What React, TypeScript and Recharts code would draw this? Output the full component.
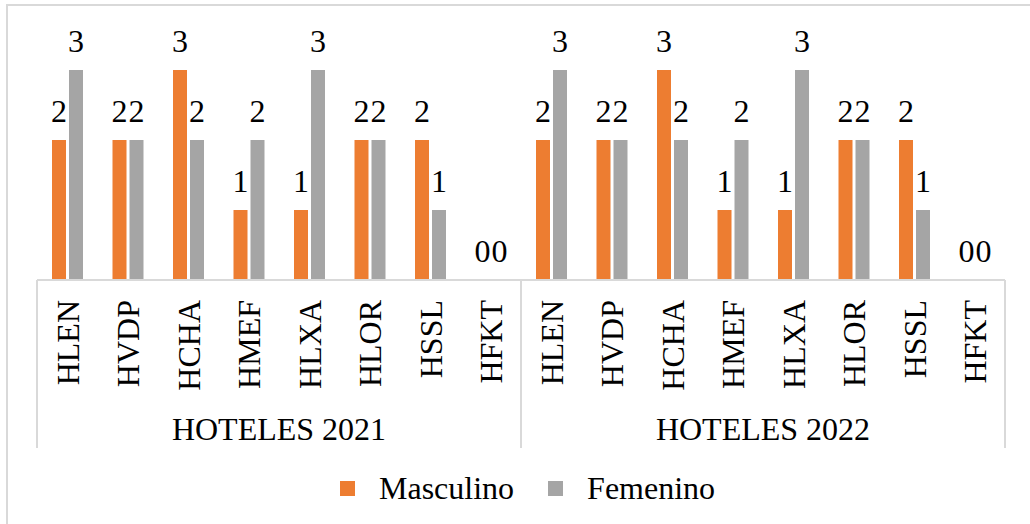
import React from 'react';
import { BarChart, Bar, XAxis, YAxis, Legend, LabelList } from 'recharts';

// hotel codes shown under each year group
const hotelCodes = ['HLEN', 'HVDP', 'HCHA', 'HMEF', 'HLXA', 'HLOR', 'HSSL', 'HFKT'];
const yearGroups = ['HOTELES 2021', 'HOTELES 2022'];
const seriesNames = ['Masculino', 'Femenino'];

const masculino2021 = [2, 2, 3, 1, 1, 2, 2, 0];
const femenino2021 = [3, 2, 2, 2, 3, 2, 1, 0];
const masculino2022 = [2, 2, 3, 1, 1, 2, 2, 0];
const femenino2022 = [3, 2, 2, 2, 3, 2, 1, 0];

const masculinoByYear = [masculino2021, masculino2022];
const femeninoByYear = [femenino2021, femenino2022];

const rows = yearGroups.flatMap((group, g) =>
  hotelCodes.map((code, i) => ({
    key: `${group}|${code}`,
    code,
    group,
    masculino: masculinoByYear[g][i],
    femenino: femeninoByYear[g][i],
  }))
);

const CHART_W = 1030;
const CHART_H = 524;
const MARGIN = { top: 0, right: 25, bottom: 0, left: 37 };
const ORANGE = '#ED7D31';
const GRAY = '#A5A5A5';
const LINE = '#D9D9D9';
const FONT = '"Liberation Serif", "Times New Roman", serif';
const FONT_SIZE = 32;
const LABEL_GAP = 18;

const plotWidth = CHART_W - MARGIN.left - MARGIN.right;

// zero bars get a hairline height so their "0" label still gets a slot
const zeroBarHeight = (value: any) => (Number(value) === 0 ? 0.01 : 0);

function CategoryTick(props: any) {
  const { x, y, index, visibleTicksCount } = props;
  const row = rows[index];
  if (!row) return null;
  const count = visibleTicksCount || rows.length;
  const half = (props.width || plotWidth) / count / 2;
  const pos = index % hotelCodes.length;
  const boxH = 168;
  const lx = x + 11.5;
  const ly = y + 20;
  return (
    <g>
      <text
        x={lx}
        y={ly}
        transform={`rotate(-90, ${lx}, ${ly})`}
        textAnchor="end"
        fontFamily={FONT}
        fontSize={FONT_SIZE}
        fill="#000"
      >
        {row.code}
      </text>
      {index === 0 && (
        <line x1={x - half} x2={x - half} y1={y} y2={y + boxH} stroke={LINE} strokeWidth={2} />
      )}
      {pos === hotelCodes.length - 1 && (
        <line x1={x + half} x2={x + half} y1={y} y2={y + boxH} stroke={LINE} strokeWidth={2} />
      )}
      {pos === 3 && (
        <text
          x={x + half}
          y={y + 160}
          textAnchor="middle"
          fontFamily={FONT}
          fontSize={FONT_SIZE}
          fill="#000"
        >
          {row.group}
        </text>
      )}
    </g>
  );
}

// value written above each bar
function ValueLabel(props: any) {
  const { x, y, width, value } = props;
  if (value === undefined || value === null) return null;
  return (
    <text
      x={Number(x) + Number(width) / 2}
      y={Number(y) - LABEL_GAP}
      textAnchor="middle"
      fontFamily={FONT}
      fontSize={FONT_SIZE}
      fill="#000"
    >
      {value}
    </text>
  );
}

function LegendContent({ payload }: any) {
  const items = [...(payload || [])].sort(
    (a: any, b: any) => seriesNames.indexOf(a.value) - seriesNames.indexOf(b.value)
  );
  return (
    <div style={{ display: 'flex', alignItems: 'center', fontFamily: FONT, fontSize: FONT_SIZE, color: '#000' }}>
      {items.map((entry: any, i: number) => (
        <div key={entry.value} style={{ display: 'flex', alignItems: 'center', marginLeft: i === 0 ? 0 : 34 }}>
          <span style={{ display: 'inline-block', width: 15, height: 15, background: entry.color, marginRight: 24 }} />
          <span style={{ lineHeight: '36px' }}>{entry.value}</span>
        </div>
      ))}
    </div>
  );
}

export default function App() {
  return (
    <div style={{ position: 'fixed', left: 0, top: 0, width: CHART_W, height: CHART_H, background: '#fff', overflow: 'hidden' }}>
      <div
        style={{
          position: 'absolute',
          left: 6,
          top: 4,
          width: CHART_W + 20,
          height: CHART_H + 20,
          border: `2px solid ${LINE}`,
        }}
      />
      <BarChart
        width={CHART_W}
        height={CHART_H}
        data={rows}
        margin={MARGIN}
        barSize={14}
        barGap={3}
        style={{ position: 'absolute', left: 0, top: 0 }}
      >
        <XAxis
          dataKey="key"
          interval={0}
          height={244}
          tickLine={false}
          tickSize={0}
          tickMargin={0}
          axisLine={{ stroke: LINE, strokeWidth: 2 }}
          tick={<CategoryTick />}
        />
        <YAxis hide domain={[0, 4]} />
        <Legend
          verticalAlign="middle"
          itemSorter={null as any}
          wrapperStyle={{ top: 470, left: 340 }}
          content={<LegendContent />}
        />
        <Bar dataKey="masculino" name="Masculino" fill={ORANGE} minPointSize={zeroBarHeight} isAnimationActive={false}>
          <LabelList dataKey="masculino" content={<ValueLabel />} />
        </Bar>
        <Bar dataKey="femenino" name="Femenino" fill={GRAY} minPointSize={zeroBarHeight} isAnimationActive={false}>
          <LabelList dataKey="femenino" content={<ValueLabel />} />
        </Bar>
      </BarChart>
    </div>
  );
}
